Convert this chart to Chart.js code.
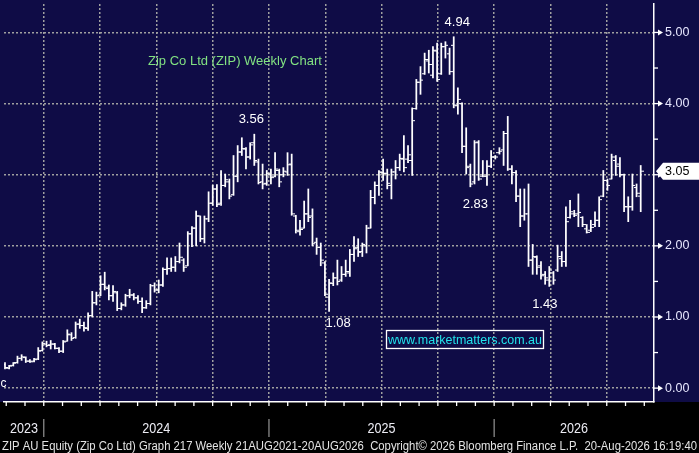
<!DOCTYPE html>
<html><head><meta charset="utf-8">
<script src="https://cdn.jsdelivr.net/npm/chart.js@4.4.0/dist/chart.umd.min.js"></script>
<style>html,body{margin:0;padding:0;background:#000;overflow:hidden}#wrap{width:699px;height:453px}</style>
</head><body><div id="wrap"><canvas id="c" width="699" height="453"></canvas></div>
<script>
// ---- data (weekly OHLC, ZIP AU) ----
const opens = [
.33,.28,.32,.36,.42,.43,.38,.38,.41,.53,
.62,.61,.62,.56,.52,.66,.75,.71,.90,.88,
.84,1.02,1.20,1.31,1.46,1.40,1.30,1.34,1.12,1.17,
1.30,1.31,1.27,1.22,1.13,1.19,1.44,1.38,1.45,1.67,
1.68,1.70,1.78,1.80,1.72,2.17,2.25,2.42,2.10,2.38,
2.60,2.80,2.60,2.85,2.90,2.72,2.98,3.32,3.36,3.25,
3.45,3.18,2.90,2.88,3.00,2.98,3.06,3.00,3.04,3.15,
2.42,2.20,2.25,2.45,2.42,2.05,1.98,1.76,1.28,1.47,
1.55,1.52,1.60,1.62,1.88,1.98,1.92,2.00,2.25,2.68,
2.85,3.03,3.02,2.85,3.04,3.10,3.22,3.22,3.20,3.93,
4.30,4.42,4.60,4.40,4.74,4.42,4.80,4.70,4.82,3.97,
4.00,3.40,3.12,2.90,3.46,2.98,2.98,3.12,3.25,3.31,
3.35,3.58,3.08,3.03,2.70,2.42,2.45,1.80,1.84,1.72,
1.60,1.52,1.62,1.66,1.82,1.78,2.40,2.45,2.45,2.40,
2.24,2.22,2.30,2.36,2.70,2.92,2.94,3.20,3.15,3.00,
2.55,2.55,2.82,2.70];
const highs = [
.36,.32,.36,.45,.47,.44,.40,.42,.57,.65,
.66,.67,.63,.57,.67,.82,.78,.93,.97,.93,
1.06,1.36,1.35,1.58,1.63,1.45,1.44,1.36,1.20,1.32,
1.39,1.33,1.30,1.27,1.23,1.46,1.48,1.52,1.69,1.83,
1.83,1.85,2.04,1.82,2.20,2.27,2.49,2.42,2.42,2.76,
2.85,2.86,3.06,3.01,2.94,3.27,3.41,3.52,3.38,3.45,
3.57,3.22,3.15,3.06,3.08,3.31,3.08,3.10,3.31,3.29,
2.43,2.36,2.63,2.80,2.52,2.11,2.04,1.78,1.53,1.62,
1.80,1.71,1.80,1.95,2.13,2.10,2.04,2.29,2.78,2.90,
3.06,3.22,3.08,3.08,3.20,3.29,3.55,3.41,3.94,4.34,
4.52,4.71,4.75,4.80,4.85,4.85,4.87,4.78,4.94,4.22,
4.01,3.66,3.15,3.48,3.48,3.20,3.20,3.34,3.27,3.38,
3.61,3.82,3.13,3.06,2.80,2.80,2.87,2.02,1.86,1.78,
1.64,1.71,1.64,2.01,1.92,2.55,2.64,2.50,2.73,2.41,
2.30,2.36,2.48,2.69,3.06,2.94,3.29,3.27,3.24,3.01,
2.69,3.01,2.87,3.13];
const lows = [
.27,.27,.31,.35,.39,.36,.36,.37,.40,.52,
.58,.55,.55,.50,.50,.66,.67,.70,.84,.80,
.81,1.00,1.17,1.30,1.38,1.24,1.22,1.09,1.10,1.15,
1.27,1.24,1.19,1.06,1.12,1.17,1.35,1.34,1.43,1.60,
1.64,1.64,1.76,1.64,1.72,1.99,2.00,2.06,2.04,2.34,
2.57,2.55,2.57,2.83,2.66,2.71,2.90,3.27,3.08,3.22,
3.13,2.87,2.80,2.85,2.87,2.97,2.83,2.97,2.99,2.43,
2.18,2.15,2.25,2.34,2.00,1.88,1.72,1.30,1.08,1.44,
1.45,1.50,1.57,1.57,1.78,1.85,1.85,1.90,2.25,2.59,
2.71,2.92,2.80,2.66,2.94,3.06,3.04,3.17,2.99,3.92,
4.13,4.41,4.43,4.36,4.31,4.41,4.64,4.41,3.94,3.85,
3.31,3.01,2.83,2.87,2.92,2.97,2.85,3.10,3.22,3.29,
3.13,3.06,2.87,2.62,2.27,2.36,1.71,1.60,1.60,1.53,
1.46,1.43,1.46,1.64,1.71,1.71,2.39,2.41,2.27,2.27,
2.18,2.20,2.27,2.27,2.69,2.78,2.94,2.99,2.97,2.48,
2.34,2.50,2.69,2.48];
const closes = [
.29,.31,.35,.42,.44,.38,.37,.40,.52,.63,
.60,.62,.56,.52,.65,.76,.70,.90,.88,.85,
1.02,1.20,1.30,1.46,1.42,1.30,1.36,1.12,1.17,1.30,
1.31,1.27,1.22,1.13,1.19,1.44,1.38,1.45,1.67,1.68,
1.70,1.78,1.84,1.70,2.17,2.25,2.42,2.10,2.38,2.60,
2.80,2.58,2.85,2.93,2.70,2.98,3.32,3.37,3.25,3.42,
3.20,2.89,2.87,3.02,2.96,3.08,2.90,3.05,3.14,2.45,
2.22,2.23,2.45,2.40,2.03,1.98,1.80,1.32,1.48,1.55,
1.50,1.60,1.64,1.88,1.96,1.91,2.02,2.25,2.68,2.85,
3.04,3.02,2.88,3.04,3.10,3.23,3.10,3.28,3.76,4.30,
4.33,4.62,4.55,4.75,4.34,4.80,4.82,4.45,3.98,4.06,
3.40,3.10,2.87,3.45,2.94,2.98,3.12,3.25,3.25,3.33,
3.58,3.08,3.03,2.70,2.42,2.45,1.80,1.85,1.70,1.58,
1.55,1.66,1.52,1.85,1.78,2.34,2.48,2.43,2.47,2.30,
2.19,2.26,2.36,2.65,2.92,2.85,3.25,3.12,3.00,2.55,
2.55,2.85,2.74,3.05];
const weeks = closes.map((_, i) => i);           // weekly bar index

// ---- axes ----
const yTicks = [0, 1, 2, 3, 4, 5];
const yHalfTicks = [0.5, 1.5, 2.5, 3.5, 4.5];
const quarterGrid = [9.33, 22.88, 36.43, 49.98, 63.53, 77.08, 90.63, 104.18, 117.73, 131.28, 144.83];
const yearLabels = ['2023', '2024', '2025', '2026'];
const yearStarts = [9.33, 63.53, 117.73];
const xMin = -0.24, xMax = 156.2;
const yMin = -0.195, yMax = 5.40;

// ---- texts ----
const titleText = 'Zip Co Ltd (ZIP) Weekly Chart';
const footerText = 'ZIP AU Equity (Zip Co Ltd) Graph 217 Weekly 21AUG2021-20AUG2026  Copyright\u00A9 2026 Bloomberg Finance L.P.  20-Aug-2026 16:19:40';
const siteText = 'www.marketmatters.com.au';
const annotations = [
  {text: '3.56', bar: 60,  side: 'high', dx: -3,  dy: -15},
  {text: '4.94', bar: 108, side: 'high', dx: 3.5, dy: -14},
  {text: '2.83', bar: 112, side: 'low',  dx: 5,   dy: 17.5},
  {text: '1.08', bar: 78,  side: 'low',  dx: 9,   dy: 12},
  {text: '1.43', bar: 131, side: 'low',  dx: -4.5,dy: 18}
];

const NAVY = '#0f0c46';
const GRID = '#a0a0a0';
const FONT = '"Liberation Sans", Arial, sans-serif';

// monthly tick positions derived from quarter grid
const monthTicks = [];
for (let k = -1; k < quarterGrid.length + 1; k++) {
  const q = quarterGrid[0] + k * (quarterGrid[1] - quarterGrid[0]);
  for (let m = 0; m < 3; m++) {
    const v = q + m * (quarterGrid[1] - quarterGrid[0]) / 3;
    if (v > xMin && v < xMax) monthTicks.push(v);
  }
}

function tickImg(side) {
  const c = document.createElement('canvas');
  c.width = 6; c.height = 3;
  const g = c.getContext('2d');
  g.fillStyle = '#ffffff';
  if (side === 'L') g.fillRect(0, 1, 3, 1); else g.fillRect(3, 1, 3, 1);
  return c;
}

const decor = {
  id: 'decor',
  beforeDraw(chart) {
    const ctx = chart.ctx;
    ctx.save();
    ctx.fillStyle = '#000';
    ctx.fillRect(0, 0, chart.width, chart.height);
    ctx.fillStyle = NAVY;
    ctx.fillRect(0, 0, chart.width, chart.chartArea.bottom);
    ctx.restore();
  },
  afterDraw(chart) {
    const ctx = chart.ctx, xs = chart.scales.x, ys = chart.scales.y, ca = chart.chartArea;
    ctx.save();
    // right axis ticks
    ctx.strokeStyle = '#fff'; ctx.fillStyle = '#fff'; ctx.lineWidth = 1.3;
    yHalfTicks.forEach(v => {
      const y = ys.getPixelForValue(v);
      ctx.beginPath(); ctx.moveTo(ca.right, y); ctx.lineTo(ca.right + 4, y); ctx.stroke();
    });
    yTicks.forEach(v => {
      const y = ys.getPixelForValue(v);
      ctx.beginPath(); ctx.moveTo(ca.right, y); ctx.lineTo(ca.right + 5, y); ctx.stroke();
      ctx.beginPath(); ctx.moveTo(ca.right + 4, y - 3); ctx.lineTo(ca.right + 9, y); ctx.lineTo(ca.right + 4, y + 3); ctx.closePath(); ctx.fill();
    });
    // last price box
    const last = closes[closes.length - 1];
    const yl = ys.getPixelForValue(last);
    ctx.fillStyle = '#fff';
    ctx.beginPath();
    ctx.moveTo(ca.right + 2, yl);
    ctx.lineTo(ca.right + 9, yl - 8.5);
    ctx.lineTo(chart.width, yl - 8.5);
    ctx.lineTo(chart.width, yl + 8.5);
    ctx.lineTo(ca.right + 9, yl + 8.5);
    ctx.closePath(); ctx.fill();
    ctx.fillStyle = '#000';
    ctx.font = '12.5px ' + FONT;
    ctx.textBaseline = 'middle'; ctx.textAlign = 'left';
    ctx.fillText(last.toFixed(2), ca.right + 11, yl + 0.5);

    // bottom month ticks
    ctx.strokeStyle = '#fff'; ctx.lineWidth = 1.3;
    monthTicks.forEach(v => {
      const x = xs.getPixelForValue(v);
      ctx.beginPath(); ctx.moveTo(x, ca.bottom); ctx.lineTo(x, ca.bottom + 4); ctx.stroke();
    });
    // year separators
    ctx.strokeStyle = '#8a8a8a'; ctx.lineWidth = 1.3;
    yearStarts.forEach(v => {
      const x = xs.getPixelForValue(v);
      ctx.beginPath(); ctx.moveTo(x, ca.bottom + 17); ctx.lineTo(x, ca.bottom + 35); ctx.stroke();
    });
    // year labels
    const bounds = [xMin].concat(yearStarts, [xMax]);
    ctx.fillStyle = '#ececf4'; ctx.font = '14.5px ' + FONT;
    ctx.textAlign = 'center'; ctx.textBaseline = 'middle';
    yearLabels.forEach((t, k) => {
      const mid = (xs.getPixelForValue(bounds[k]) + xs.getPixelForValue(bounds[k + 1])) / 2;
      ctx.fillText(t, mid, ca.bottom + 26.5, 28);
    });
    // footer
    ctx.fillStyle = '#e4e4e4'; ctx.font = '12.5px ' + FONT;
    ctx.textAlign = 'left'; ctx.textBaseline = 'alphabetic';
    ctx.fillText(footerText, 2, 449.5, 695);

    // title
    ctx.fillStyle = '#82e282'; ctx.font = '13px ' + FONT;
    ctx.fillText(titleText, 148, 64.5, 175);
    // annotations
    ctx.fillStyle = '#fff'; ctx.textAlign = 'center'; ctx.textBaseline = 'middle';
    annotations.forEach(a => {
      const v = a.side === 'high' ? highs[a.bar] : lows[a.bar];
      ctx.fillText(a.text, xs.getPixelForValue(weeks[a.bar]) + a.dx, ys.getPixelForValue(v) + a.dy);
    });
    // website box
    ctx.strokeStyle = '#fff'; ctx.lineWidth = 1.3;
    ctx.strokeRect(386.5, 330.5, 157, 18);
    ctx.fillStyle = '#22e2ea';
    ctx.fillText(siteText, 465, 340, 154);
    // partial legend char
    ctx.fillStyle = '#fff'; ctx.textAlign = 'left'; ctx.textBaseline = 'alphabetic';
    ctx.font = '12px ' + FONT;
    ctx.fillText('c', 0.5, 387);
    ctx.restore();
  }
};

new Chart(document.getElementById('c'), {
  type: 'bar',
  data: {
    datasets: [
      {
        type: 'bar',
        data: weeks.map((w, i) => ({x: w, y: [lows[i], highs[i]]})),
        backgroundColor: '#ffffff', borderWidth: 0, barThickness: 1.1, grouped: false, order: 2
      },
      {
        type: 'scatter',
        data: weeks.map((w, i) => ({x: w, y: opens[i]})),
        pointStyle: tickImg('L'), pointRadius: 3, pointHoverRadius: 3, order: 1
      },
      {
        type: 'scatter',
        data: weeks.map((w, i) => ({x: w, y: closes[i]})),
        pointStyle: tickImg('R'), pointRadius: 3, pointHoverRadius: 3, order: 0
      }
    ]
  },
  options: {
    responsive: false, animation: false, devicePixelRatio: 1,
    layout: {padding: 0},
    plugins: {legend: {display: false}, tooltip: {enabled: false}},
    events: [],
    scales: {
      x: {
        type: 'linear', position: 'bottom', min: xMin, max: xMax, offset: false,
        afterBuildTicks: s => { s.ticks = quarterGrid.map(v => ({value: v})); },
        afterFit: s => { s.height = 51; s.paddingLeft = 0; s.paddingRight = 0; },
        ticks: {display: false},
        grid: {color: GRID, lineWidth: 1.5, drawTicks: false, offset: false},
        border: {display: true, color: '#ffffff', width: 1.5, dash: [2, 2]}
      },
      y: {
        type: 'linear', position: 'right', min: yMin, max: yMax,
        afterBuildTicks: s => { s.ticks = yTicks.map(v => ({value: v})); },
        afterFit: s => { s.width = 45; s.paddingTop = 0; s.paddingBottom = 0; },
        ticks: {
          callback: v => v.toFixed(2), color: '#e8e8ff', padding: 11,
          font: {family: FONT, size: 12.5}
        },
        grid: {color: GRID, lineWidth: 1.5, drawTicks: false},
        border: {display: true, color: '#ffffff', width: 1.5, dash: [2, 2]}
      }
    }
  },
  plugins: [decor]
});
</script>
</body></html>
